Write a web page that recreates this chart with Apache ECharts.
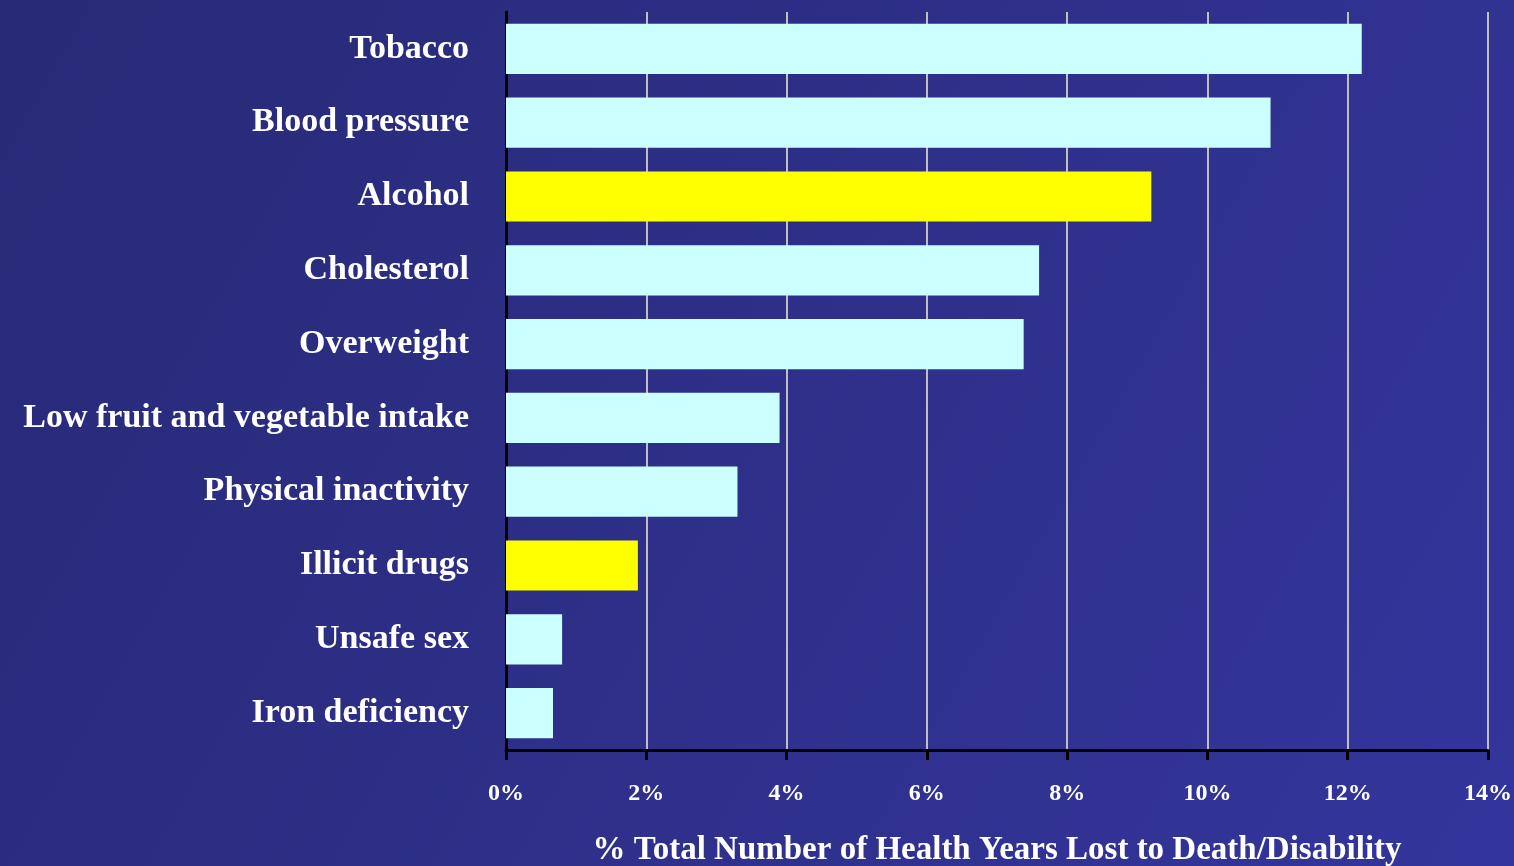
<!DOCTYPE html>
<html>
<head>
<meta charset="utf-8">
<script src="https://cdn.jsdelivr.net/npm/echarts@6/dist/echarts.min.js"></script>
<style>
  html, body { margin: 0; padding: 0; }
  #main { width: 1514px; height: 866px; }
</style>
</head>
<body>
<div id="main"></div>
<script>
// risk factors, bottom to top as echarts draws a category y axis
var categories = ['Iron deficiency', 'Unsafe sex', 'Illicit drugs', 'Physical inactivity',
    'Low fruit and vegetable intake', 'Overweight', 'Cholesterol', 'Alcohol',
    'Blood pressure', 'Tobacco'];
var values = [0.67, 0.8, 1.88, 3.3, 3.9, 7.38, 7.6, 9.2, 10.9, 12.2];
var highlighted = ['Alcohol', 'Illicit drugs'];
var axisTitle = '% Total Number of Health Years Lost to Death/Disability';

var chart = echarts.init(document.getElementById('main'));

var serif = '"Liberation Serif", "DejaVu Serif", serif';

var option = {
    animation: false,
    backgroundColor: {
        type: 'linear', x: 0, y: 0, x2: 1, y2: 1,
        colorStops: [
            { offset: 0, color: '#272a76' },
            { offset: 1, color: '#34359c' }
        ]
    },
    grid: {
        left: 506,
        right: 26,
        top: 12,
        bottom: 116,
        outerBoundsMode: 'none'
    },
    xAxis: {
        type: 'value',
        min: 0,
        max: 14,
        interval: 2,
        name: axisTitle,
        nameLocation: 'middle',
        nameGap: 84,
        nameTextStyle: {
            color: '#ffffff',
            fontFamily: serif,
            fontSize: 33,
            fontWeight: 'bold'
        },
        axisLine: { show: true, lineStyle: { color: '#000000', width: 3 } },
        axisTick: { show: true, length: 10, lineStyle: { color: '#000000', width: 3 } },
        axisLabel: {
            color: '#ffffff',
            fontFamily: serif,
            fontSize: 24,
            fontWeight: 'bold',
            margin: 32,
            formatter: '{value}%'
        },
        splitLine: { show: true, lineStyle: { color: '#bfbfbf', width: 2 } }
    },
    yAxis: {
        type: 'category',
        data: categories,
        axisLine: { show: true, lineStyle: { color: '#000000', width: 3 } },
        axisTick: { show: false },
        axisLabel: {
            color: '#ffffff',
            fontFamily: serif,
            fontSize: 34,
            fontWeight: 'bold',
            margin: 37
        }
    },
    series: [
        {
            type: 'bar',
            barCategoryGap: '32%',
            data: values.map(function (v, i) {
                return {
                    value: v,
                    itemStyle: {
                        color: highlighted.indexOf(categories[i]) >= 0 ? '#ffff00' : '#ccffff'
                    }
                };
            })
        }
    ]
};

chart.setOption(option);
</script>
</body>
</html>
